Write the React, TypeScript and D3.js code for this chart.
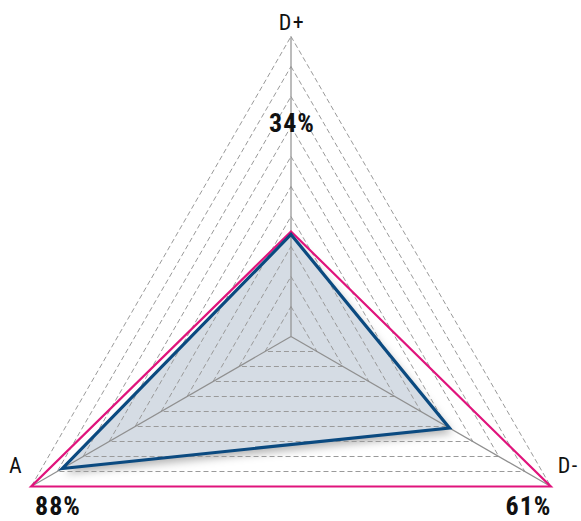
import React from "react";
import * as d3 from "d3";

const axes = ["D+", "D-", "A"];
const angles = [-90, 30, 150];
const blueValues = [0.34, 0.61, 0.88];
const pinkValues = [0.35, 1.0, 1.0];
const pctLabels = ["34%", "61%", "88%"];
const gridLevels = [0.1, 0.2, 0.3, 0.4, 0.5, 0.6, 0.7, 0.8, 0.9, 1.0];

const W = 581;
const H = 521;
const cx = 291;
const cy = 336.5;
const R = 300;
const FONT = "'Liberation Sans Narrow', 'Roboto Condensed', 'DejaVu Sans Condensed', sans-serif";

export default function App() {
  const r = d3.scaleLinear().domain([0, 1]).range([0, R]);
  const ang = (i: number) => (angles[i] * Math.PI) / 180;
  const pt = (i: number, v: number): [number, number] => [
    cx + r(v) * Math.cos(ang(i)),
    cy + r(v) * Math.sin(ang(i)),
  ];
  const line = d3.line().curve(d3.curveLinearClosed);
  const poly = (vals: number[]) => line(vals.map((v, i) => pt(i, v))) as string;

  const labelPos: { x: number; y: number; anchor: string }[] = [
    { x: pt(0, 1)[0] + 1, y: pt(0, 1)[1] - 7, anchor: "middle" },
    { x: pt(1, 1)[0] + 7, y: pt(1, 1)[1] - 14, anchor: "start" },
    { x: pt(2, 1)[0] - 8, y: pt(2, 1)[1] - 14, anchor: "end" },
  ];
  const pctPos = [
    { x: cx + 1, y: 132 },
    { x: 528.5, y: 515 },
    { x: 58, y: 515 },
  ];

  return (
    <svg width={W} height={H} style={{ position: "absolute", left: 0, top: 0, background: "#fff" }}>
      <defs>
        <filter id="shadow" x="-20%" y="-20%" width="140%" height="140%">
          <feDropShadow dx="3" dy="5" stdDeviation="4" floodColor="#000" floodOpacity="0.3" />
        </filter>
      </defs>
      <path d={poly(blueValues)} fill="#d5dce4" stroke="none" filter="url(#shadow)" />
      <g>
        {gridLevels.map((lv) => (
          <path
            key={lv}
            d={poly(axes.map(() => lv))}
            fill="none"
            stroke="#9a9a9a"
            strokeWidth={1}
            strokeDasharray="5,3"
          />
        ))}
      </g>
      <g>
        {axes.map((a, i) => {
          const [x, y] = pt(i, 1);
          return <line key={a} x1={cx} y1={cy} x2={x} y2={y} stroke="#8f8f8f" strokeWidth={1.2} />;
        })}
      </g>
      <path d={poly(pinkValues)} fill="none" stroke="#e0147c" strokeWidth={2.2} strokeLinejoin="miter" />
      <path d={poly(blueValues)} fill="none" stroke="#0b4a80" strokeWidth={3.2} strokeLinejoin="miter" />
      {axes.map((a, i) => (
        <text
          key={a}
          x={labelPos[i].x}
          y={labelPos[i].y}
          textAnchor={labelPos[i].anchor as any}
          fontFamily={FONT}
          fontSize={22}
          letterSpacing={1.5}
          fill="#111"
        >
          {a}
        </text>
      ))}
      {pctLabels.map((p, i) => (
        <text
          key={p}
          x={pctPos[i].x}
          y={pctPos[i].y}
          textAnchor="middle"
          fontFamily={FONT}
          fontSize={26}
          fontWeight="bold"
          letterSpacing={1}
          fill="#111"
        >
          {p}
        </text>
      ))}
    </svg>
  );
}
